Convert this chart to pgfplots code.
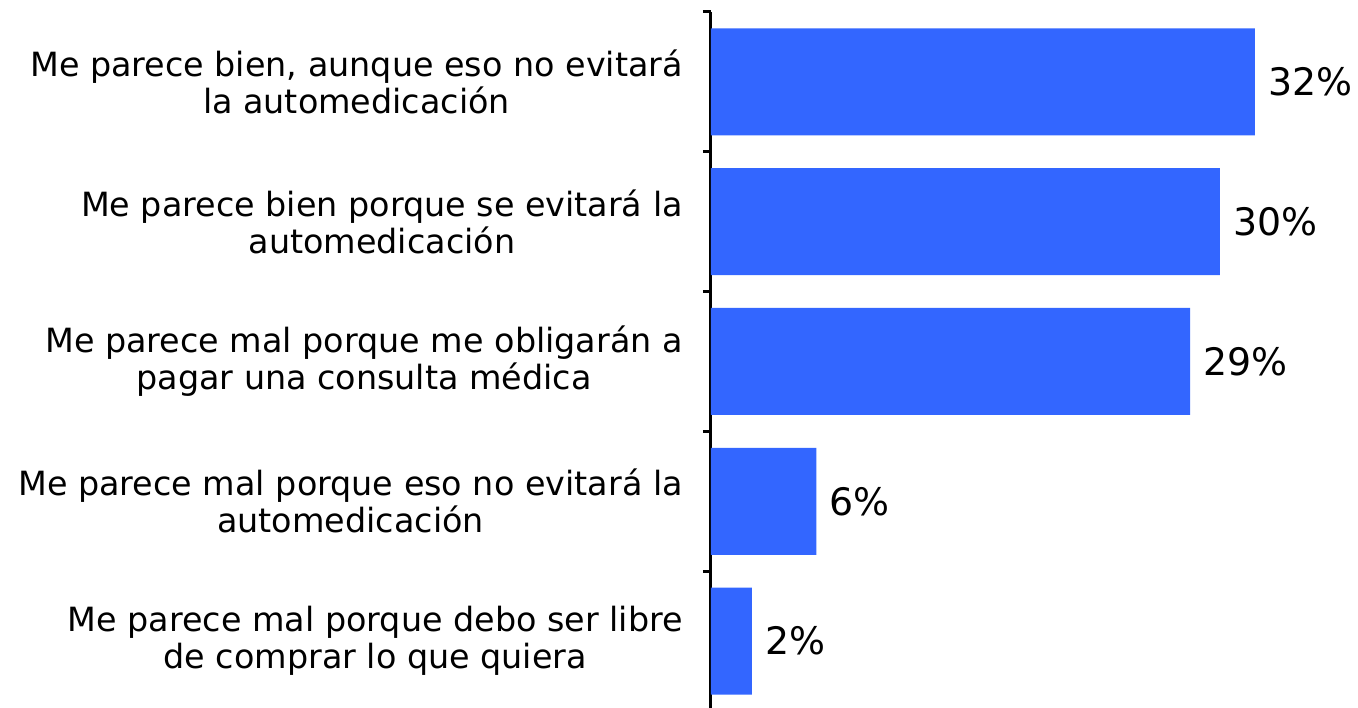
\documentclass[border=0pt]{standalone}
\usepackage{fontspec}
\setmainfont{DejaVu Sans}
\usepackage{pgfplots}
\pgfplotsset{compat=1.18}
\definecolor{barblue}{HTML}{3366FF}

\begin{document}
\begin{tikzpicture}
\begin{axis}[
  xbar,
  y dir=reverse,
  scale only axis,
  width=647bp, height=699bp,
  xmin=0, xmax=38.06,
  ymin=-0.5, ymax=4.5,
  axis x line=none,
  axis y line*=left,
  axis line style={line width=3bp, black},
  bar width=107bp,
  ytick={0,...,4},
  major tick length=0pt,
  minor ytick={-0.5,0.5,1.5,2.5,3.5,4.5},
  minor tick length=8bp,
  tick align=outside,
  tick style={line width=3bp, black},
  yticklabels={
    {Me parece bien, aunque eso no evitará\\la automedicación},
    {Me parece bien porque se evitará la\\automedicación},
    {Me parece mal porque me obligarán a\\pagar una consulta médica},
    {Me parece mal porque eso no evitará la\\automedicación},
    {Me parece mal porque debo ser libre\\de comprar lo que quiera}},
  yticklabel style={align=center, font=\fontsize{33.5}{37}\selectfont, inner sep=0pt, xshift=-28bp},
  point meta=explicit symbolic,
  nodes near coords,
  nodes near coords style={anchor=west, inner sep=0pt, xshift=13bp, font=\fontsize{38}{40}\selectfont},
]
\addplot[draw=none, fill=barblue] coordinates {
  (32.00,0) [32\%]
  (29.94,1) [30\%]
  (28.18,2) [29\%]
  (6.20,3) [6\%]
  (2.41,4) [2\%]
};
\end{axis}
\pgfresetboundingbox
\path ([shift={(-711bp,3bp)}]current axis.south west) rectangle ([shift={(0bp,12bp)}]current axis.north east);
\end{tikzpicture}
\end{document}
